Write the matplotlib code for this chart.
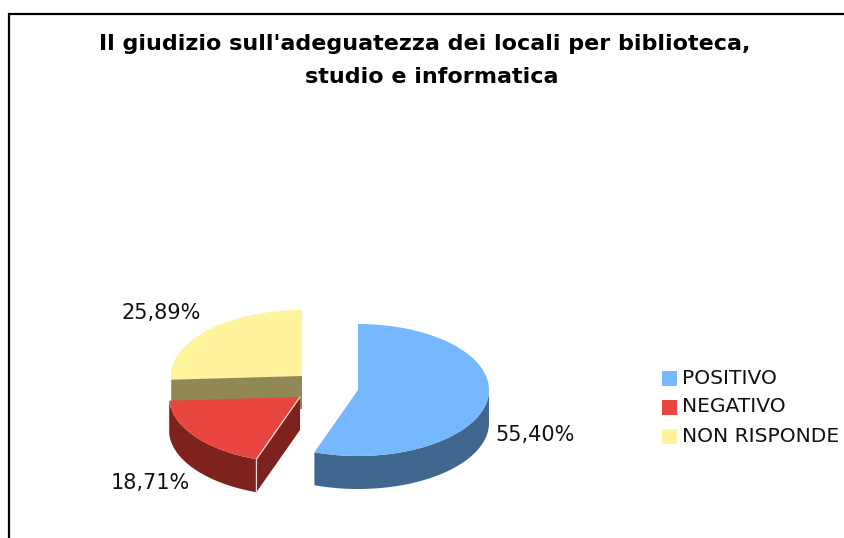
import numpy as np
import matplotlib
matplotlib.use('Agg')
import matplotlib.pyplot as plt
from matplotlib.patches import Polygon, Rectangle

# Data
categories = ['POSITIVO', 'NEGATIVO', 'NON RISPONDE']
values = [55.40, 18.71, 25.89]
labels = ['55,40%', '18,71%', '25,89%']
title_lines = ["Il giudizio sull'adeguatezza dei locali per biblioteca,", "studio e informatica"]

# Styles
top_colors = ['#75B8FF', '#E8463F', '#FFF39B']
side_colors = ['#40688F', '#7F221E', '#918955']
centers = [(358, 390), (300, 397), (302, 376)]  # exploded slices
rx, ry = 131, 66
depth = 33


def rim(cx, cy, t0, t1, dy=0):
    # points of the ellipse, angle clockwise from 12 o'clock
    t = np.radians(np.linspace(t0, t1, 120))
    return np.column_stack([cx + rx * np.sin(t), cy - ry * np.cos(t) + dy])


def outer_wall(ax, cx, cy, t0, t1, color):
    a = rim(cx, cy, t0, t1)
    b = rim(cx, cy, t0, t1, depth)[::-1]
    ax.add_patch(Polygon(np.vstack([a, b]), closed=True, fc=color, ec='none'))


def cut_face(ax, cx, cy, t, color, edge='none'):
    p = rim(cx, cy, t, t)[0]
    pts = [(cx, cy), tuple(p), (p[0], p[1] + depth), (cx, cy + depth)]
    ax.add_patch(Polygon(pts, closed=True, fc=color, ec=edge, lw=0.8))


def top_face(ax, cx, cy, t0, t1, color):
    pts = np.vstack([[(cx, cy)], rim(cx, cy, t0, t1)])
    ax.add_patch(Polygon(pts, closed=True, fc=color, ec='none'))


fig = plt.figure(figsize=(8.44, 5.38), dpi=100)
ax = fig.add_axes([0, 0, 1, 1])
ax.set_xlim(0, 844)
ax.set_ylim(538, 0)
ax.axis('off')

# Frame
ax.plot([9, 9, 844], [538, 14, 14], color='black', lw=1.6, solid_joinstyle='miter')

# Slice angles
edges = np.concatenate([[0], np.cumsum(values)]) * 3.6
t_blue = (edges[0], edges[1])
t_red = (edges[1], edges[2])
t_yel = (edges[2], edges[3])

# Yellow slice goes first, red sits on top of its wall
cx, cy = centers[2]
top_face(ax, cx, cy, t_yel[0], t_yel[1], top_colors[2])
cut_face(ax, cx, cy, t_yel[0], side_colors[2])

# Red slice
cx, cy = centers[1]
outer_wall(ax, cx, cy, t_red[0], t_red[1], side_colors[1])
cut_face(ax, cx, cy, t_red[0], side_colors[1])
top_face(ax, cx, cy, t_red[0], t_red[1], top_colors[1])
p = rim(cx, cy, t_red[0], t_red[0])[0]
ax.plot([cx, p[0], p[0]], [cy, p[1], p[1] + depth], color='#E9DCDC', lw=0.9)

# Blue slice
cx, cy = centers[0]
outer_wall(ax, cx, cy, 90, t_blue[1], side_colors[0])
top_face(ax, cx, cy, t_blue[0], t_blue[1], top_colors[0])

# Title, the two lines are not centred on the same x in the original
for line, x, y in zip(title_lines, [425, 432], [44, 77]):
    ax.text(x, y, line, ha='center', va='center', fontsize=16, fontweight='bold',
            family='DejaVu Sans', color='black')

# Slice labels
label_pos = [(535, 435), (150, 483), (161, 313)]
for txt, (x, y) in zip(labels, label_pos):
    ax.text(x, y, txt, ha='center', va='center', fontsize=15, family='DejaVu Sans', color='#111111')

# Legend
legend_y = [378, 407, 436]
for name, color, y in zip(categories, top_colors, legend_y):
    ax.add_patch(Rectangle((662, y - 7.5), 15, 15, fc=color, ec='none'))
    ax.text(682, y, name, ha='left', va='center', fontsize=14.6, family='DejaVu Sans', color='#111111')

fig.savefig('out.png', dpi=100)
